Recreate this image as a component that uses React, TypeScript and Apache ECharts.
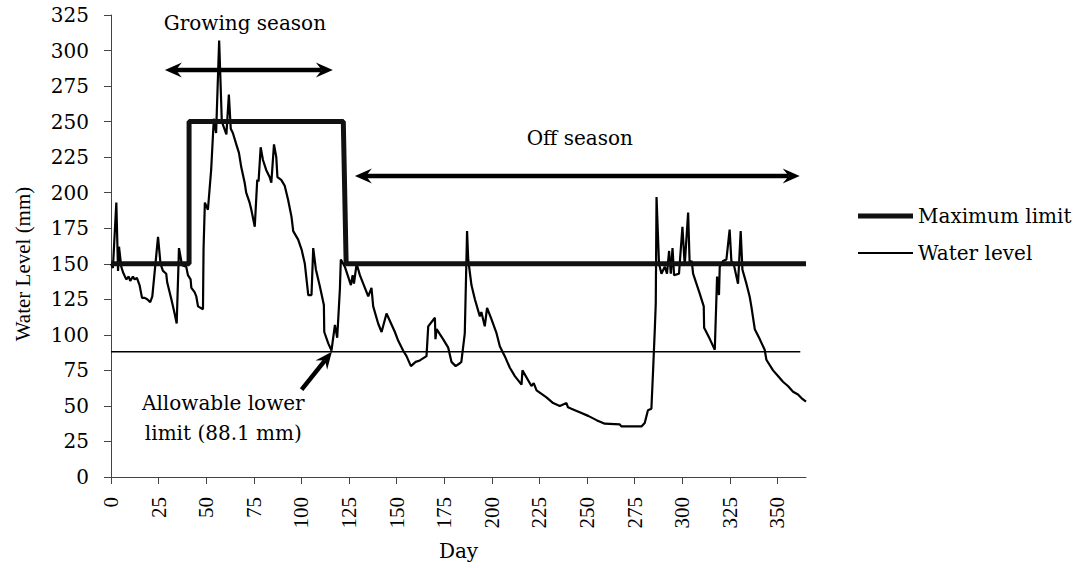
import React, { useEffect, useRef } from "react";
import * as echarts from "echarts";

// ---------- data ----------
const waterDays = [
  0, 1, 2.8, 3.7, 4.2, 5.4, 6.3, 8, 9.3, 10.1, 11.5, 12.4, 13.6, 15, 16.3, 17.7, 19, 20.6, 21.7, 24.7,
  26, 27.3, 29, 29.5, 31.7, 33.4, 34.5, 35.7, 37.3, 39.5, 40.4, 41.8, 42.2, 43.9, 44.8, 45.7, 48.3, 48.6,
  49.3, 50.9, 52.6, 54, 55.2, 56.8, 58.2, 60.6, 61.9, 62.9, 64, 65.8, 67.2, 68.4, 70.2, 71, 72.8, 73.7,
  75.5, 76.8, 77.5, 78.6, 79.8, 81.5, 83.3, 84.2, 85.6, 86.8, 87.4, 89.4, 91.2, 93, 94.8, 95.7, 98.3,
  100.1, 101.8, 103.6, 105.3, 106.2, 107.6, 109.7, 111.8, 112, 114.1, 115.8, 117.6, 118.8, 120.2, 120.7,
  122.8, 126, 126.9, 127.6, 129, 130.7, 135.1, 136.8, 137.7, 140.3, 142.1, 144.7, 149.1, 150.8, 153.4,
  155.2, 157.5, 160, 162.2, 165.7, 166.6, 170.1, 170.4, 171, 174.4, 177.1, 178.8, 181, 183.2, 184, 185.8,
  187, 187.6, 189.3, 191.1, 193.7, 194.5, 196.3, 197.5, 199.8, 202.5, 204.2, 206.8, 209.4, 212.1, 215.6,
  216.1, 220.8, 222, 223.5, 228.7, 232.2, 235.7, 239.2, 240, 243.6, 247.1, 250.6, 255, 259.3, 267.2, 268,
  278.6, 280.3, 282, 283.8, 284.7, 285.6, 286.1, 286.5, 287.8, 289.1, 290.8, 292, 293.1, 294, 294.9, 295.7,
  298.3, 300.1, 301.3, 303.1, 303.9, 305, 305.7, 309.2, 311.3, 311.5, 314.5, 317.1, 318.3, 319.3, 319.7,
  321.4, 323.2, 324.9, 325.8, 327, 329.3, 330.7, 331.6, 333.7, 335.4, 336.3, 338.1, 340.7, 343.3, 344.2,
  347.7, 350.3, 352.9, 355.5, 358.2, 360.8, 362.6, 365,
];
const waterLevels = [
  150, 147, 193, 145, 162, 148, 144, 139, 141, 138, 141, 139, 140, 135, 126, 126, 125, 123, 127, 169,
  150, 145, 143, 137, 125, 115, 108, 161, 149, 148, 142, 139, 133, 130, 127, 120, 118, 160,
  193, 188, 216, 252, 242, 307, 250, 241, 269, 245, 242, 234, 228, 218, 207, 200, 193, 188,
  176, 209, 208, 232, 223, 216, 211, 207, 234, 225, 211, 209, 205, 195, 183, 173, 167,
  160, 150, 128, 128, 161, 146, 134, 121, 102, 94, 89, 107, 98, 132, 153,
  148, 135, 142, 136, 150, 142, 127, 133, 120, 108, 102, 115, 102, 96, 89,
  85, 78, 81, 82, 85, 106, 112, 97, 104, 97, 91, 81, 78, 80, 81, 101,
  173, 153, 135, 125, 113, 116, 106, 119, 111, 101, 92, 85, 77, 71, 65,
  75, 64, 66, 61, 56, 52, 50, 52, 49, 47, 45, 43, 40, 37.5, 37, 35.6,
  35.6, 38, 47, 48, 75, 104, 122, 197, 150, 143, 148, 143, 159, 143, 161, 142,
  143, 176, 149, 186, 150, 152, 143, 129, 120, 105, 97, 89.5, 141, 128, 148,
  152, 153, 174, 152, 150, 136, 173, 146, 136, 127, 120, 104, 97, 89.5, 82.5,
  75, 71, 67, 64, 60, 58, 55.5, 53,
];
const maxLimitDays = [0, 41, 41, 122, 123.5, 365];
const maxLimitValues = [150, 150, 250, 250, 150, 150];
const lowerLimitDays = [0, 362];
const lowerLimitValue = 88.1;
const xTickValues = [0, 25, 50, 75, 100, 125, 150, 175, 200, 225, 250, 275, 300, 325, 350];
const yMin = 0;
const yMax = 325;
const yStep = 25;
const xMin = 0;
const xMax = 365;

const SERIF_WIDE = "'DejaVu Serif', serif";
const SERIF = "'Liberation Serif', 'Times New Roman', serif";

function zip(xs: number[], ys: number[]) {
  return xs.map((x, i) => [x, ys[i]]);
}

export default function App() {
  const ref = useRef<HTMLDivElement>(null);
  useEffect(() => {
    const chart = echarts.init(ref.current!, null, { renderer: "svg" });
    chart.setOption({
      animation: false,
      backgroundColor: "#fff",
      grid: { left: 111, right: 275, top: 15, bottom: 91, containLabel: false },
      legend: {
        data: [
          { name: "Maximum limit", icon: "path://M0,0H55V5H0Z" },
          { name: "Water level", icon: "path://M0,0H55V2H0Z" },
        ],
        orient: "vertical",
        left: 858,
        top: 206,
        padding: 0,
        itemWidth: 55,
        itemHeight: 20,
        itemGap: 17,
        textStyle: { fontFamily: SERIF_WIDE, fontSize: 20, color: "#000", lineHeight: 20 },
      },
      xAxis: {
        type: "value",
        min: xMin,
        max: xMax,
        interval: 25,
        name: "Day",
        nameLocation: "middle",
        nameGap: 64,
        nameTextStyle: { fontFamily: SERIF_WIDE, fontSize: 20, color: "#000" },
        splitLine: { show: false },
        axisLine: { lineStyle: { color: "#444", width: 1 } },
        axisTick: { length: 7, lineStyle: { color: "#444" }, customValues: xTickValues },
        axisLabel: {
          rotate: 90,
          margin: 20,
          customValues: xTickValues,
          fontFamily: SERIF,
          fontSize: 21,
          color: "#000",
        },
      },
      yAxis: {
        type: "value",
        min: yMin,
        max: yMax,
        interval: yStep,
        name: "Water Level (mm)",
        nameLocation: "middle",
        nameRotate: 90,
        nameGap: 78,
        nameTextStyle: { fontFamily: SERIF, fontSize: 21, color: "#000", padding: [0, 36, 0, 0] },
        splitLine: { show: false },
        axisLine: { show: true, lineStyle: { color: "#444", width: 1 } },
        axisTick: { show: true, length: 7, lineStyle: { color: "#444" } },
        axisLabel: { margin: 22, fontFamily: SERIF_WIDE, fontSize: 20, color: "#000" },
      },
      series: [
        {
          name: "Allowable lower limit",
          type: "line",
          data: lowerLimitDays.map((d) => [d, lowerLimitValue]),
          symbol: "none",
          itemStyle: { color: "#000" },
          lineStyle: { color: "#000", width: 1.6 },
          z: 1,
        },
        {
          name: "Water level",
          type: "line",
          data: zip(waterDays, waterLevels),
          symbol: "none",
          itemStyle: { color: "#000" },
          lineStyle: { color: "#000", width: 2.2 },
          z: 2,
        },
        {
          name: "Maximum limit",
          type: "line",
          data: zip(maxLimitDays, maxLimitValues),
          symbol: "none",
          itemStyle: { color: "#111" },
          lineStyle: { color: "#111", width: 5 },
          z: 3,
        },
      ],
    });

    const p = (x: number, y: number) => chart.convertToPixel({ gridIndex: 0 }, [x, y]) as number[];

    const elements: any[] = [];
    const head = (tip: number[], from: number[]) => {
      const dx = tip[0] - from[0];
      const dy = tip[1] - from[1];
      const len = Math.hypot(dx, dy);
      const ux = dx / len;
      const uy = dy / len;
      const nx = -uy;
      const ny = ux;
      const L = 17;
      const W = 7.5;
      const notch = 6;
      elements.push({
        type: "polygon",
        shape: {
          points: [
            [tip[0], tip[1]],
            [tip[0] - L * ux + W * nx, tip[1] - L * uy + W * ny],
            [tip[0] - (L - notch) * ux, tip[1] - (L - notch) * uy],
            [tip[0] - L * ux - W * nx, tip[1] - L * uy - W * ny],
          ],
        },
        style: { fill: "#000" },
        z: 10,
      });
      return [tip[0] - (L - notch) * ux, tip[1] - (L - notch) * uy];
    };
    const arrow = (a: number[], b: number[], both: boolean) => {
      const endB = head(b, a);
      const endA = both ? head(a, b) : a;
      elements.push({
        type: "line",
        shape: { x1: endA[0], y1: endA[1], x2: endB[0], y2: endB[1] },
        style: { stroke: "#000", lineWidth: 4.5 },
        z: 10,
      });
    };

    arrow(p(28.3, 286.3), p(116.5, 286.3), true);
    arrow(p(128.1, 211.8), p(361.7, 211.8), true);
    arrow(p(100.1, 61.4), p(116, 88.1), false);

    const label = (text: string, at: number[], extra: any = {}) => {
      elements.push({
        type: "text",
        x: at[0],
        y: at[1],
        style: {
          text,
          fill: "#000",
          font: `20px ${SERIF_WIDE}`,
          align: "center",
          verticalAlign: "middle",
          ...extra,
        },
        z: 11,
      });
    };
    label("Growing season", p(70.3, 319.4));
    label("Off season", p(246.2, 238.6));
    label("Allowable lower\nlimit (88.1 mm)", p(59, 41.7), { lineHeight: 30 });

    chart.setOption({ graphic: elements });
    return () => chart.dispose();
  }, []);
  return (
    <div
      ref={ref}
      style={{ position: "fixed", left: 0, top: 0, width: 1081, height: 568, background: "#fff" }}
    />
  );
}
